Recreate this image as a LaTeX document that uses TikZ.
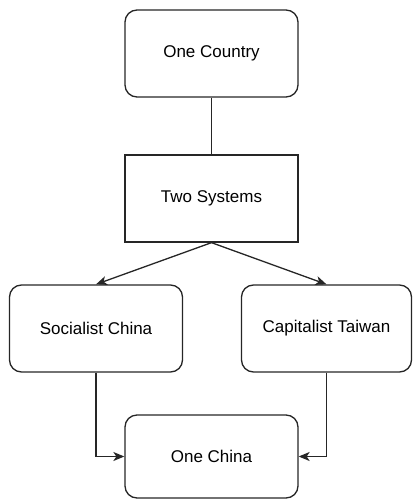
\documentclass[tikz,border=0pt]{standalone}
\usepackage{fontspec}
\setmainfont{Liberation Sans}
\usepackage{xcolor}
\usepackage{tikz}
\usetikzlibrary{positioning, arrows.meta}

\begin{document}
\begin{tikzpicture}[x=1pt,y=-1pt]
					\tikzstyle{block}=[draw=black!85,line width=1.3pt,minimum width=173pt,minimum height=87pt,inner sep=0pt,font=\fontsize{17}{20}\selectfont]
					\tikzstyle{rblock}=[block,rounded corners=12pt]
					\tikzstyle{link}=[draw=black!85,line width=1.3pt]
					\tikzstyle{arrow}=[link,-{Stealth[length=11pt,width=9pt,inset=3pt]}]
					\useasboundingbox (0,0) rectangle (412,500);
					\node[rblock](country) at (211.5,53.5){One Country};
					\node[block](systems) at (211.5,198.5){Two Systems};
					\node[rblock](socialist) at (96,328.5){Socialist China};
					\node[rblock,minimum width=170pt](capitalist) at (326.5,328.5){Capitalist Taiwan};
					\node[rblock,minimum height=83pt](china) at (211.5,456.5){One China};
					\path
						(country) edge[link] node {}(systems)
						(systems.south) edge[arrow] node {}(socialist.north)
						(systems.south) edge[arrow] node {}(capitalist.north);
					\draw[arrow] (socialist.south) |- (china.west);
					\draw[arrow] (capitalist.south) |- (china.east);
				\end{tikzpicture}
\end{document}
